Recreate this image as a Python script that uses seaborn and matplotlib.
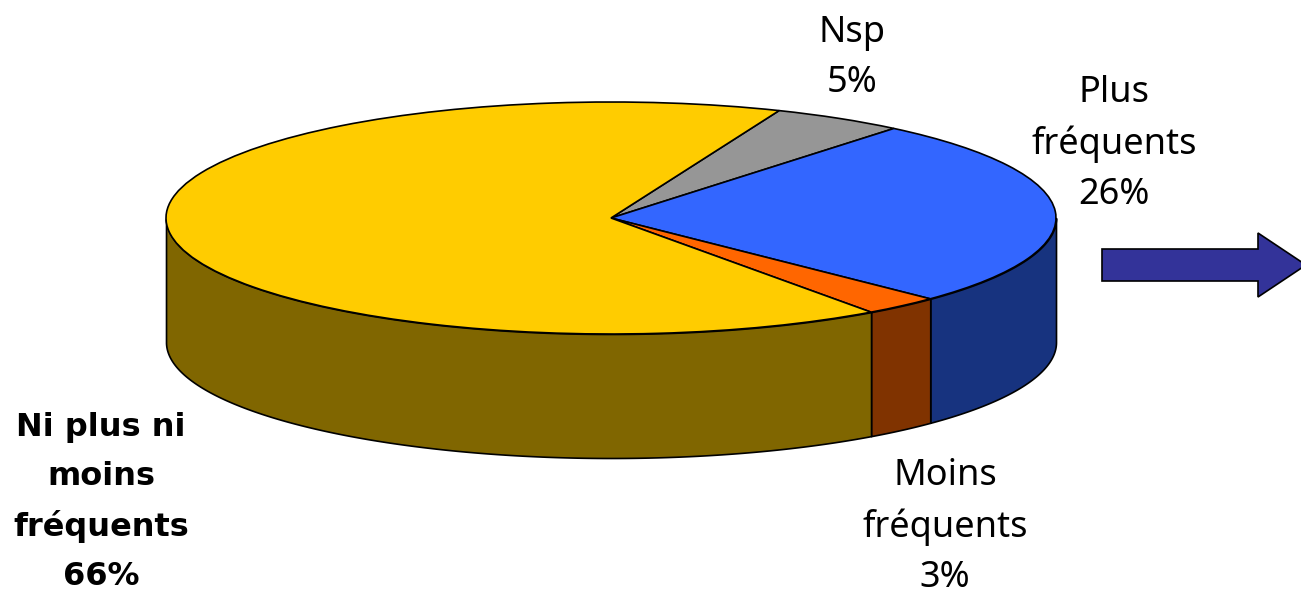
import numpy as np
import matplotlib
matplotlib.use("Agg")
import matplotlib.pyplot as plt
import seaborn as sns
from matplotlib.patches import Polygon

# =============================
# DATA
# =============================
labels = ["Nsp", "Plus\nfréquents", "Moins\nfréquents", "Ni plus ni\nmoins\nfréquents"]
values = [4.8, 26.3, 2.8, 66.1]
top_colors = ["#969696", "#3366FF", "#FF6600", "#FFCC00"]
side_colors = ["#4B4B4B", "#17337F", "#803300", "#806600"]
bold_labels = [False, False, False, True]
label_centers = [(852, 58), (1114, 144), (945, 527), (101, 502)]

# =============================
# GEOMETRY (pixels of the 1301x596 picture)
# =============================
W, H = 1301, 596
CX, CY = 611, 218
RX, RY = 445, 116
DEPTH = 124 / RY

sns.set_theme(style="white")
plt.rcParams["font.family"] = ["Noto Sans", "DejaVu Sans"]

fig = plt.figure(figsize=(W / 100, H / 100), dpi=100)
ax = fig.add_axes([0, 0, 1, 1])

wedges, _ = ax.pie(
    values,
    colors=top_colors,
    startangle=67.8,
    counterclock=False,
    wedgeprops={"edgecolor": "black", "linewidth": 1.2, "zorder": 5},
)

# pie forces equal aspect, squash it into the ellipse
ax.set_aspect("auto")
ax.set_xlim(-CX / RX, (W - CX) / RX)
ax.set_ylim((CY - H) / RY, CY / RY)
ax.axis("off")

# =============================
# SIDE WALLS
# =============================
for wedge, col in zip(wedges, side_colors):
    t = np.radians(np.linspace(wedge.theta1, wedge.theta2, 400))
    t = t[np.sin(t) <= 0]
    if len(t) == 0:
        continue
    ax.fill_between(np.cos(t), np.sin(t) - DEPTH, np.sin(t),
                    facecolor=col, edgecolor="black", linewidth=1.2, zorder=2)

# =============================
# LABELS
# =============================
for lab, val, bold, (px, py) in zip(labels, values, bold_labels, label_centers):
    # Noto Sans has no bold here, so the bold label goes to DejaVu
    fig.text(px / W, 1 - py / H, f"{lab}\n{val:.0f}%",
             ha="center", va="center", multialignment="center",
             fontsize=23 if bold else 26, linespacing=1.72 if bold else 1.51,
             color="black",
             family="DejaVu Sans" if bold else "Noto Sans",
             fontweight="bold" if bold else "normal")

# =============================
# ARROW
# =============================
arrow_px = [(1102, 249), (1258, 249), (1258, 233), (1306, 265),
            (1258, 297), (1258, 281), (1102, 281)]
fig.add_artist(Polygon([(x / W, 1 - y / H) for x, y in arrow_px],
                       closed=True, transform=fig.transFigure,
                       facecolor="#333399", edgecolor="black", linewidth=1.2))

fig.savefig("out.png", dpi=100)
